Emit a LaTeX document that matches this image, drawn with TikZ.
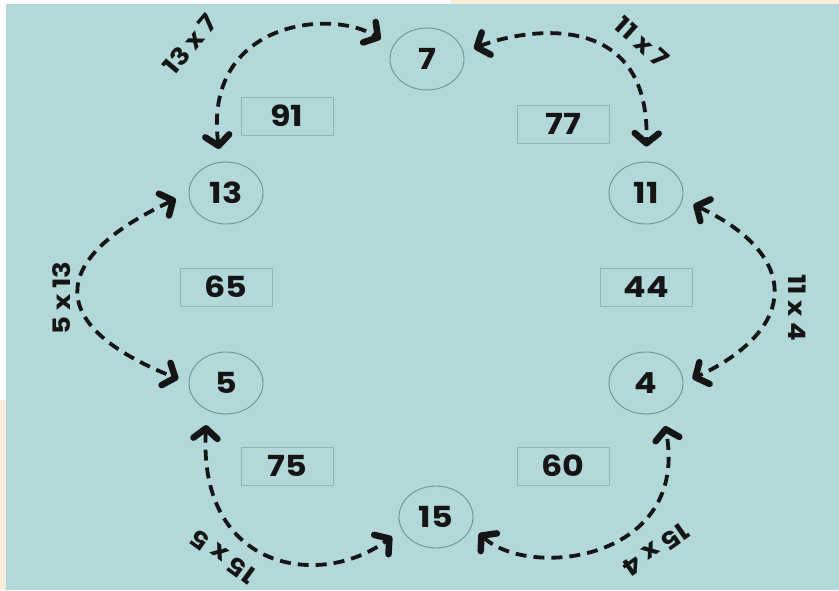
\documentclass[tikz,border=0pt]{standalone}
\usepackage{fontspec}
\setmainfont{Poppins}[FakeStretch=1.15]
\usetikzlibrary{shapes.geometric,arrows.meta}

\definecolor{bgteal}{HTML}{B3D8D9}
\definecolor{peach}{HTML}{FDEBDC}
\definecolor{ringgray}{HTML}{6F9292}
\definecolor{boxgray}{HTML}{93B4B4}
\definecolor{ink}{HTML}{151515}

\tikzset{
  numnode/.style={ellipse, draw=ringgray, line width=0.9pt, minimum width=74pt,
    minimum height=62pt, inner sep=0pt, text=ink, font=\bfseries\fontsize{29}{29}\selectfont},
  prodbox/.style={rectangle, draw=boxgray, line width=0.9pt, minimum width=92pt,
    minimum height=38pt, inner sep=0pt, text=ink, font=\bfseries\fontsize{29}{29}\selectfont},
  swaparc/.style={draw=ink, line width=3.8pt, dash pattern=on 11pt off 7pt,
    {Straight Barb[length=10pt,width=24pt,line width=6.5pt,round]}-{Straight Barb[length=10pt,width=24pt,line width=6.5pt,round]}},
  factlabel/.style={text=ink, inner sep=0pt, font=\bfseries\fontsize{24}{24}\selectfont}
}

\begin{document}
\begin{tikzpicture}[x=1pt,y=1pt]
  % canvas and frame
  \useasboundingbox (0,0) rectangle (839,590);
  \fill[white] (0,0) rectangle (839,590);
  \fill[peach] (0,0) rectangle (6,190);
  \fill[peach] (450,586) rectangle (839,590);
  \fill[bgteal] (6,0) rectangle (839,586);

  % factor circles
  \node[numnode] (c7)  at (427,531) {7};
  \node[numnode] (c13) at (226,397) {13};
  \node[numnode] (c11) at (646,397) {11};
  \node[numnode] (c5)  at (226,207) {5};
  \node[numnode] (c4)  at (646,207) {4};
  \node[numnode] (c15) at (436,73)  {15};

  % product boxes
  \node[prodbox] (b91) at (287,474) {91};
  \node[prodbox] (b77) at (563,466) {77};
  \node[prodbox] (b65) at (226,303) {65};
  \node[prodbox] (b44) at (646,303) {44};
  \node[prodbox] (b75) at (287,124) {75};
  \node[prodbox] (b60) at (563,124) {60};

  % double-headed dashed arcs between neighbouring factors
  \draw[swaparc, shorten <=13pt, shorten >=14pt]
    (c13.100) .. controls (203,568) and (330,582) .. (c7.160);
  \draw[swaparc, shorten <=11pt, shorten >=15pt]
    (c7.10) .. controls (520,560) and (650,585) .. (c11.90);
  \draw[swaparc, shorten <=14pt, shorten >=11pt]
    (c13.180) .. controls (46,330) and (46,264) .. (c5.180);
  \draw[swaparc, shorten <=12pt, shorten >=10pt]
    (c11.350) .. controls (800,335) and (800,262) .. (c4.0);
  \draw[swaparc, shorten <=15pt, shorten >=12pt]
    (c5.235) .. controls (198,20) and (320,0) .. (c15.200);
  \draw[swaparc, shorten <=10pt, shorten >=15pt]
    (c15.345) .. controls (530,10) and (690,30) .. (c4.300);

  % arc labels
  \node[factlabel, rotate=50]   (l137) at (190,546) {13 x 7};
  \node[factlabel, rotate=-42]  (l117) at (642,548) {11 x 7};
  \node[factlabel, rotate=90]   (l513) at (62,292)  {5 x 13};
  \node[factlabel, rotate=-90]  (l114) at (797,282) {11 x 4};
  \node[factlabel, rotate=144]  (l155) at (223,33)  {15 x 5};
  \node[factlabel, rotate=215]  (l154) at (656,40)  {15 x 4};
\end{tikzpicture}
\end{document}
